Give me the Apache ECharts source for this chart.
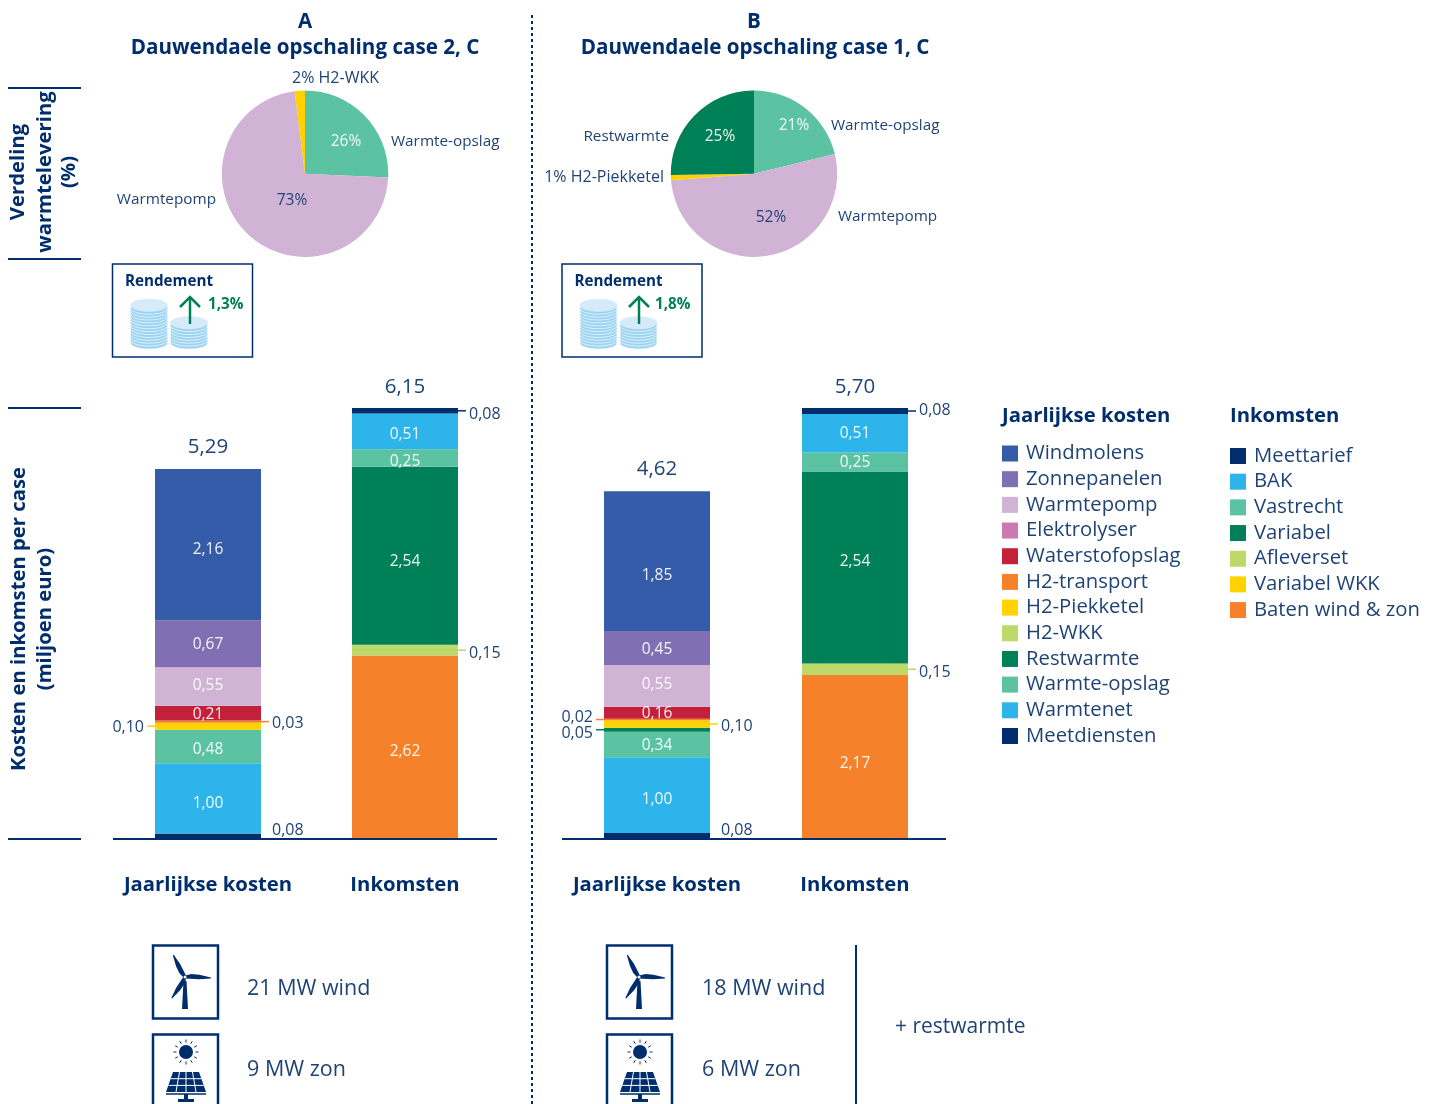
<!DOCTYPE html>
<html>
<head>
<meta charset="utf-8">
<title>Dauwendaele opschaling</title>
<script src="https://cdn.jsdelivr.net/npm/echarts@6/dist/echarts.min.js"></script>
<style>
html, body { margin: 0; padding: 0; background: #fff; overflow: hidden; }
#main { width: 1439px; height: 1104px; }
</style>
</head>
<body>
<div id="main"></div>
<script>
const categories = ['Jaarlijkse kosten', 'Inkomsten'];

// volgorde zoals in de legenda (boven naar onder)
const costNames = ['Windmolens', 'Zonnepanelen', 'Warmtepomp', 'Elektrolyser', 'Waterstofopslag', 'H2-transport', 'H2-Piekketel', 'H2-WKK', 'Restwarmte', 'Warmte-opslag', 'Warmtenet', 'Meetdiensten'];
const costColors = ['#355CA8', '#8070B3', '#D0B3D5', '#CC79B1', '#C3203A', '#F5822A', '#FFD200', '#BCD96A', '#008057', '#5BC2A2', '#2CB4EB', '#002E6D'];
const costsA = [2.16, 0.67, 0.55, null, 0.21, 0.03, 0.10, null, null, 0.48, 1.00, 0.08];
const costsB = [1.85, 0.45, 0.55, null, 0.16, 0.02, 0.10, null, 0.05, 0.34, 1.00, 0.08];

const incomeNames = ['Meettarief', 'BAK', 'Vastrecht', 'Variabel', 'Afleverset', 'Variabel WKK', 'Baten wind & zon'];
const incomeColors = ['#002E6D', '#2CB4EB', '#5BC2A2', '#008057', '#BCD96A', '#FFD200', '#F5822A'];
const incomeA = [0.08, 0.51, 0.25, 2.54, 0.15, null, 2.62];
const incomeB = [0.08, 0.51, 0.25, 2.54, 0.15, null, 2.17];

const totalsA = [5.29, 6.15];
const totalsB = [4.62, 5.70];

const pieNamesA = ['Warmte-opslag', 'Warmtepomp', 'H2-WKK'];
const pieValuesA = [26, 73, 2];
const pieNamesB = ['Warmte-opslag', 'Warmtepomp', 'H2-Piekketel', 'Restwarmte'];
const pieValuesB = [21, 52, 1, 25];

const NAVY = '#002E6D';
const TXT = '#1F4375';
const GREEN = '#008057';
const FONT = '"Open Sans", "Noto Sans", sans-serif';

const fmt = v => v.toFixed(2).replace('.', ',');
const colorOf = name => {
    let i = costNames.indexOf(name);
    if (i >= 0) return costColors[i];
    return incomeColors[incomeNames.indexOf(name)];
};

// kleine segmenten krijgen hun label naast de balk
const calloutsA = [
    { cat: 0, name: 'Meetdiensten', side: 1, dy: -7, noLine: true },
    { cat: 0, name: 'H2-Piekketel', side: -1, dy: 0 },
    { cat: 0, name: 'H2-transport', side: 1, dy: 1 },
    { cat: 1, name: 'Meettarief', side: 1, dy: 3 },
    { cat: 1, name: 'Afleverset', side: 1, dy: 2 }
];
const calloutsB = [
    { cat: 0, name: 'Meetdiensten', side: 1, dy: -7, noLine: true },
    { cat: 0, name: 'H2-transport', side: -1, dy: -3 },
    { cat: 0, name: 'Restwarmte', side: -1, dy: 3 },
    { cat: 0, name: 'H2-Piekketel', side: 1, dy: 1 },
    { cat: 1, name: 'Meettarief', side: 1, dy: -2 },
    { cat: 1, name: 'Afleverset', side: 1, dy: 2 }
];

// labels staan in het origineel niet altijd precies in het midden
const labelShiftA = { Windmolens: 5, Zonnepanelen: 1, Warmtepomp: -1, Waterstofopslag: 1, 'Warmte-opslag': 3, Warmtenet: 5, BAK: 3, Vastrecht: 3, Variabel: 6, 'Baten wind & zon': 4 };
const labelShiftB = { Windmolens: 14, Zonnepanelen: 2, Warmtepomp: -1, Waterstofopslag: 1, 'Warmte-opslag': 1, Warmtenet: 4, BAK: 0, Vastrecht: 1, Variabel: -6, 'Baten wind & zon': 7 };

function barSeries(names, values, cat, panel, callouts, shifts) {
    return names.map((name, i) => {
        const isCallout = callouts.some(c => c.cat === cat && c.name === name);
        return {
            name: name,
            type: 'bar',
            stack: 'stack' + panel,
            xAxisIndex: panel,
            yAxisIndex: panel,
            barWidth: 106,
            itemStyle: { color: colorOf(name) },
            label: {
                show: !isCallout,
                position: 'inside',
                offset: [0, shifts[name] || 0],
                color: 'rgba(255,255,255,0.92)',
                fontFamily: FONT,
                fontSize: 15.5,
                formatter: p => (p.value == null ? '' : fmt(p.value))
            },
            data: categories.map((c, k) => (k === cat ? values[i] : null))
        };
    }).reverse();
}

// stapelmidden van een segment, gerekend vanaf de as
function midOf(names, values, name) {
    let sum = 0;
    for (let i = names.length - 1; i >= 0; i--) {
        const v = values[i] || 0;
        if (names[i] === name) return { mid: sum + v / 2, value: v };
        sum += v;
    }
}

function annotationSeries(panel, callouts, totals, costs, income) {
    const items = callouts.map(c => {
        const m = c.cat === 0 ? midOf(costNames, costs, c.name) : midOf(incomeNames, income, c.name);
        return [c.cat, m.mid, m.value];
    });
    totals.forEach((t, k) => items.push([k, t, t]));
    return {
        type: 'custom',
        xAxisIndex: panel,
        yAxisIndex: panel,
        silent: true,
        clip: false,
        z: 5,
        data: items,
        renderItem: (params, api) => {
            const i = params.dataIndex;
            const pt = api.coord([api.value(0), api.value(1)]);
            if (i >= callouts.length) {
                return {
                    type: 'text',
                    style: {
                        x: pt[0], y: pt[1] - 21, text: fmt(api.value(2)),
                        fill: TXT, font: '20.5px ' + FONT, textAlign: 'center', textVerticalAlign: 'middle'
                    }
                };
            }
            const c = callouts[i];
            const edge = pt[0] + c.side * 53;
            const children = [{
                type: 'text',
                style: {
                    x: edge + c.side * 11, y: pt[1] + c.dy + 1, text: fmt(api.value(2)),
                    fill: TXT, font: '16px ' + FONT,
                    textAlign: c.side > 0 ? 'left' : 'right', textVerticalAlign: 'middle'
                }
            }];
            if (!c.noLine) {
                children.push({
                    type: 'line',
                    shape: { x1: edge, y1: pt[1], x2: edge + c.side * 8, y2: pt[1] },
                    style: { stroke: colorOf(c.name), lineWidth: 1.5 }
                });
            }
            return { type: 'group', children: children };
        }
    };
}

// posities van de pie-labels: [x, y, align]
const innerPosA = [[346, 142], [292, 201], null];
const outerPosA = [[391, 142, 'left'], [216, 200, 'right'], [292, 78, 'left']];
const innerPosB = [[794, 126], [771, 218], null, [720, 137]];
const outerPosB = [[831, 126, 'left'], [838, 217, 'left'], [664, 177, 'right'], [669, 137, 'right']];

function pieSeries(names, values, colors, center, innerPos, outerPos, isSmall) {
    const data = names.map((n, i) => ({ name: n, value: values[i], itemStyle: { color: colors[i] } }));
    const base = { type: 'pie', center: center, radius: 83.2, silent: true, startAngle: 90, labelLine: { show: false } };
    return [
        Object.assign({}, base, {
            data: data.map(d => Object.assign({}, d, {
                label: { color: d.name === 'Warmtepomp' ? TXT : 'rgba(255,255,255,0.92)' }
            })),
            label: {
                position: 'inside',
                fontFamily: FONT,
                fontSize: 15.5,
                formatter: p => (innerPos[p.dataIndex] ? p.value + '%' : '')
            },
            labelLayout: p => {
                const pos = innerPos[p.dataIndex];
                return pos ? { x: pos[0], y: pos[1], align: 'center', verticalAlign: 'middle' } : {};
            }
        }),
        Object.assign({}, base, {
            data: data.map(d => ({
                name: d.name,
                value: d.value,
                itemStyle: { color: 'rgba(0,0,0,0)' },
                label: { fontSize: d.name === isSmall ? 16 : 15.3 }
            })),
            label: {
                position: 'outside',
                fontFamily: FONT,
                color: TXT,
                formatter: p => (p.name === isSmall ? p.value + '% ' + p.name : p.name)
            },
            labelLayout: p => {
                const pos = outerPos[p.dataIndex];
                return { x: pos[0], y: pos[1], align: pos[2], verticalAlign: 'middle' };
            }
        })
    ];
}

function text(x, y, str, opt) {
    opt = opt || {};
    return {
        type: 'text', x: x, y: y, rotation: opt.rot || 0, z: 10, silent: true,
        style: {
            text: str, fill: opt.color || TXT,
            font: (opt.bold ? 'bold ' : '') + (opt.size || 15) + 'px ' + FONT,
            textAlign: opt.align || 'left', textVerticalAlign: 'middle'
        }
    };
}

function hline(x1, x2, y) {
    return { type: 'line', z: 10, silent: true, shape: { x1: x1, y1: y, x2: x2, y2: y }, style: { stroke: NAVY, lineWidth: 2 } };
}

function vtext(x, y, str) {
    return text(x, y, str, { bold: true, size: 20.3, color: NAVY, align: 'center', rot: Math.PI / 2 });
}

function coinStack(cx, bottom, count) {
    const els = [];
    for (let i = 0; i <= count; i++) {
        els.push({
            type: 'ellipse', z: 10, silent: true,
            shape: { cx: cx, cy: bottom - i * 2.9, rx: 18.5, ry: 6 },
            style: { fill: i === count ? '#D6EBFA' : '#9BD3F3', stroke: i === count ? '#D6EBFA' : '#E8F5FC', lineWidth: 0.9 }
        });
    }
    return els;
}

function rendementBox(x, pct, arrowX, pctX) {
    const out = [
        { type: 'rect', z: 10, silent: true, shape: { x: x, y: 264, width: 140, height: 93 }, style: { fill: '#fff', stroke: NAVY, lineWidth: 1.5 } },
        text(x + 12.5, 282, 'Rendement', { bold: true, size: 15.2, color: NAVY }),
        text(pctX, 305, pct, { bold: true, size: 15.2, color: GREEN })
    ];
    out.push(...coinStack(x + 36.5, 343, 13));
    out.push(...coinStack(x + 76.5, 343, 7));
    out.push({ type: 'polyline', z: 11, silent: true, shape: { points: [[arrowX, 324], [arrowX, 298]] }, style: { stroke: GREEN, lineWidth: 2.5, fill: null } });
    out.push({ type: 'polyline', z: 11, silent: true, shape: { points: [[arrowX - 10, 307], [arrowX, 297], [arrowX + 10, 307]] }, style: { stroke: GREEN, lineWidth: 2.5, fill: null } });
    return out;
}

function blade(hx, hy, len, deg) {
    const a = deg * Math.PI / 180;
    const pts = [[0, -1.5], [len * 0.25, -3.2], [len * 0.55, -2.8], [len, -0.5], [len, 0.5], [len * 0.55, 1.8], [0, 1.5]];
    return {
        type: 'polygon', z: 10, silent: true,
        shape: { points: pts.map(p => [hx + p[0] * Math.cos(a) - p[1] * Math.sin(a), hy + p[0] * Math.sin(a) + p[1] * Math.cos(a)]) },
        style: { fill: NAVY }
    };
}

function windIcon(x) {
    const hx = x + 32, hy = 977;
    return [
        { type: 'rect', z: 10, silent: true, shape: { x: x, y: 945.5, width: 65, height: 73 }, style: { fill: '#fff', stroke: NAVY, lineWidth: 2.5 } },
        { type: 'polygon', z: 10, silent: true, shape: { points: [[hx - 1.5, hy + 4], [hx + 1.5, hy + 4], [hx + 3, hy + 32], [hx - 3, hy + 32]] }, style: { fill: NAVY } },
        blade(hx, hy, 26, 2),
        blade(hx, hy, 25, -118),
        blade(hx, hy, 25, 122),
        { type: 'circle', z: 11, silent: true, shape: { cx: hx, cy: hy, r: 1.5 }, style: { fill: '#fff' } }
    ];
}

function solarIcon(x) {
    const cx = x + 33, cy = 1052;
    const out = [
        { type: 'rect', z: 10, silent: true, shape: { x: x, y: 1034.5, width: 65, height: 90 }, style: { fill: '#fff', stroke: NAVY, lineWidth: 2.5 } },
        { type: 'circle', z: 10, silent: true, shape: { cx: cx, cy: cy, r: 7 }, style: { fill: NAVY } }
    ];
    for (let i = 0; i < 12; i++) {
        const a = i * Math.PI / 6;
        out.push({
            type: 'line', z: 10, silent: true,
            shape: { x1: cx + 9.5 * Math.cos(a), y1: cy + 9.5 * Math.sin(a), x2: cx + 12.5 * Math.cos(a), y2: cy + 12.5 * Math.sin(a) },
            style: { stroke: NAVY, lineWidth: 1 }
        });
    }
    // paneel
    out.push({ type: 'polygon', z: 10, silent: true, shape: { points: [[cx - 13, 1072], [cx + 13, 1072], [cx + 20, 1092], [cx - 20, 1092]] }, style: { fill: NAVY } });
    for (let r = 1; r < 3; r++) {
        const y = 1072 + r * 6.7, w = 13 + r * 2.3;
        out.push({ type: 'line', z: 11, silent: true, shape: { x1: cx - w, y1: y, x2: cx + w, y2: y }, style: { stroke: '#fff', lineWidth: 1 } });
    }
    for (let c = -1; c <= 1; c++) {
        out.push({ type: 'line', z: 11, silent: true, shape: { x1: cx + c * 6.5, y1: 1072, x2: cx + c * 10, y2: 1092 }, style: { stroke: '#fff', lineWidth: 1 } });
    }
    out.push({ type: 'line', z: 10, silent: true, shape: { x1: cx - 20, y1: 1094, x2: cx + 20, y2: 1094 }, style: { stroke: NAVY, lineWidth: 1.5 } });
    out.push({ type: 'rect', z: 10, silent: true, shape: { x: cx - 2, y: 1094, width: 4, height: 6 }, style: { fill: NAVY } });
    out.push({ type: 'rect', z: 10, silent: true, shape: { x: cx - 8, y: 1099, width: 16, height: 3 }, style: { fill: NAVY } });
    return out;
}

const graphics = [
    text(305, 22, 'A', { bold: true, size: 20.6, color: NAVY, align: 'center' }),
    text(305, 48, 'Dauwendaele opschaling case 2, C', { bold: true, size: 20.6, color: NAVY, align: 'center' }),
    text(754, 22, 'B', { bold: true, size: 20.6, color: NAVY, align: 'center' }),
    text(755, 48, 'Dauwendaele opschaling case 1, C', { bold: true, size: 20.6, color: NAVY, align: 'center' }),
    hline(8, 81, 88), hline(8, 81, 259), hline(8, 81, 408), hline(8, 81, 839),
    vtext(18, 172, 'Verdeling'), vtext(45, 172, 'warmtelevering'), vtext(69, 172, '(%)'),
    vtext(19, 619, 'Kosten en inkomsten per case'), vtext(45, 619, '(miljoen euro)'),
    hline(113, 497, 839), hline(562, 946, 839),
    { type: 'line', z: 10, silent: true, shape: { x1: 532, y1: 15, x2: 532, y2: 1104 }, style: { stroke: NAVY, lineWidth: 2, lineDash: [3, 3] } },
    { type: 'line', z: 10, silent: true, shape: { x1: 856, y1: 945, x2: 856, y2: 1104 }, style: { stroke: NAVY, lineWidth: 2 } },
    text(1002, 416, 'Jaarlijkse kosten', { bold: true, size: 20.3, color: NAVY }),
    text(1230, 416, 'Inkomsten', { bold: true, size: 20.3, color: NAVY }),
    text(247, 989, '21 MW wind', { size: 21.5 }),
    text(247, 1070, '9 MW zon', { size: 21.5 }),
    text(702, 989, '18 MW wind', { size: 21.5 }),
    text(702, 1070, '6 MW zon', { size: 21.5 }),
    text(895, 1027, '+ restwarmte', { size: 21 })
].concat(
    rendementBox(112.5, '1,3%', 190, 208),
    rendementBox(562, '1,8%', 639, 655),
    windIcon(153), solarIcon(153),
    windIcon(607), solarIcon(607)
);

const legendBase = {
    orient: 'vertical',
    icon: 'rect',
    padding: 0,
    itemWidth: 16,
    itemHeight: 16,
    itemGap: 5.68,
    selectedMode: false,
    textStyle: { color: TXT, fontFamily: FONT, fontSize: 20.3, padding: [0, 0, 0, 3] }
};

function axisCat(grid) {
    return {
        type: 'category', gridIndex: grid, data: categories,
        axisLine: { show: false }, axisTick: { show: false },
        axisLabel: { color: NAVY, fontFamily: FONT, fontWeight: 'bold', fontSize: 20.3, margin: 36, interval: 0 }
    };
}

const chart = echarts.init(document.getElementById('main'), null, { renderer: 'canvas' });
chart.setOption({
    animation: false,
    backgroundColor: '#fff',
    textStyle: { fontFamily: FONT },
    legend: [
        Object.assign({}, legendBase, { left: 1002, top: 443.5, data: costNames }),
        Object.assign({}, legendBase, { left: 1230, top: 446, data: incomeNames })
    ],
    grid: [
        { left: 109.5, top: 408, width: 394, height: 431 },
        { left: 558, top: 408, width: 396, height: 431 }
    ],
    xAxis: [axisCat(0), axisCat(1)],
    yAxis: [
        { type: 'value', gridIndex: 0, min: 0, max: 6.15, show: false },
        { type: 'value', gridIndex: 1, min: 0, max: 5.70, show: false }
    ],
    series: [].concat(
        barSeries(costNames, costsA, 0, 0, calloutsA, labelShiftA),
        barSeries(incomeNames, incomeA, 1, 0, calloutsA, labelShiftA),
        barSeries(costNames, costsB, 0, 1, calloutsB, labelShiftB),
        barSeries(incomeNames, incomeB, 1, 1, calloutsB, labelShiftB),
        annotationSeries(0, calloutsA, totalsA, costsA, incomeA),
        annotationSeries(1, calloutsB, totalsB, costsB, incomeB),
        pieSeries(pieNamesA, pieValuesA, ['#5BC2A2', '#D0B3D5', '#FFD200'], [305, 173.7], innerPosA, outerPosA, 'H2-WKK'),
        pieSeries(pieNamesB, pieValuesB, ['#5BC2A2', '#D0B3D5', '#FFD200', '#008057'], [754, 173.7], innerPosB, outerPosB, 'H2-Piekketel')
    ),
    graphic: graphics
});
window.addEventListener('resize', () => chart.resize());
</script>
</body>
</html>
